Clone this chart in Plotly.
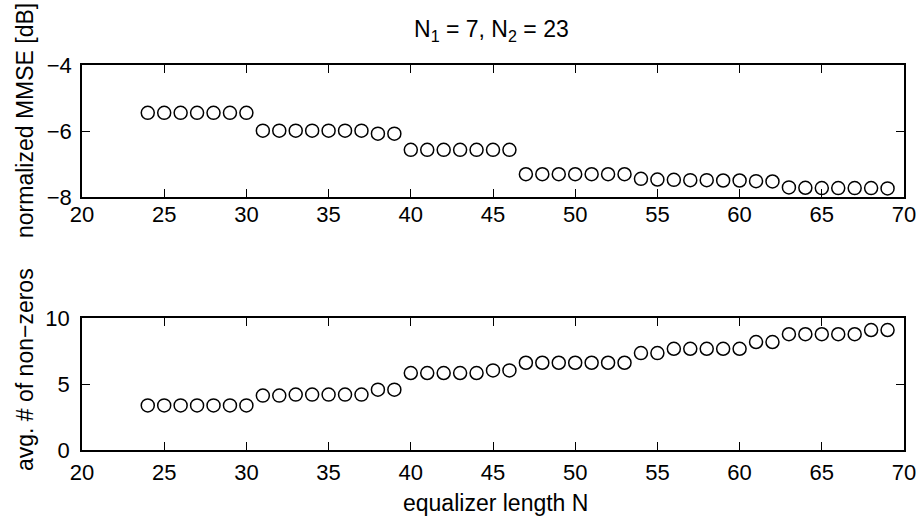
import plotly.graph_objects as go

# Data
N = list(range(24, 70))
mmse_db = [
    -5.45, -5.45, -5.45, -5.45, -5.45, -5.45, -5.45,          # 24-30
    -5.99, -5.99, -5.99, -5.99, -5.99, -5.99, -5.99,          # 31-37
    -6.08, -6.08,                                             # 38-39
    -6.57, -6.57, -6.57, -6.57, -6.57, -6.57, -6.57,          # 40-46
    -7.31, -7.31, -7.31, -7.31, -7.31, -7.31, -7.31,          # 47-53
    -7.45, -7.47, -7.48, -7.49, -7.49, -7.50, -7.50, -7.52, -7.53,  # 54-62
    -7.71, -7.72, -7.73, -7.73, -7.73, -7.73, -7.74,          # 63-69
]
avg_nonzeros = [
    3.38, 3.38, 3.38, 3.38, 3.38, 3.38, 3.38,                 # 24-30
    4.12, 4.12, 4.2, 4.2, 4.2, 4.2, 4.2,                      # 31-37
    4.57, 4.57,                                               # 38-39
    5.83, 5.83, 5.83, 5.83, 5.83, 6.03, 6.03,                 # 40-46
    6.61, 6.61, 6.61, 6.61, 6.61, 6.61, 6.61,                 # 47-53
    7.34, 7.34,                                               # 54-55
    7.67, 7.67, 7.67, 7.67, 7.67,                             # 56-60
    8.18, 8.18,                                               # 61-62
    8.77, 8.77, 8.77, 8.77, 8.77,                             # 63-67
    9.09, 9.09,                                               # 68-69
]
x_ticks = [20, 25, 30, 35, 40, 45, 50, 55, 60, 65, 70]
top_yticks = [-8, -6, -4]
bot_yticks = [0, 5, 10]

W, H = 922, 521
FONT = "Liberation Sans, Arial, Helvetica, sans-serif"
FS_TICK = 22
FS_LAB = 23

fig = go.Figure()
marker = dict(symbol="circle-open", size=13, color="black", line=dict(width=1.5, color="black"))
fig.add_trace(go.Scatter(x=N, y=mmse_db, mode="markers", marker=marker, xaxis="x", yaxis="y", showlegend=False))
fig.add_trace(go.Scatter(x=N, y=avg_nonzeros, mode="markers", marker=marker, xaxis="x2", yaxis="y2", showlegend=False))

xdom = [82 / W, 904 / W]
axis_common = dict(
    automargin=False,
    showgrid=False, zeroline=False, showline=True, linecolor="black", linewidth=1.5,
    mirror="ticks", ticks="inside", ticklen=8, tickwidth=1.2, tickcolor="black",
    tickfont=dict(family=FONT, size=FS_TICK, color="black"),
)

fig.update_layout(
    width=W, height=H,
    margin=dict(l=0, r=0, t=0, b=0, pad=0),
    paper_bgcolor="white", plot_bgcolor="white",
    showlegend=False,
    xaxis=dict(domain=xdom, range=[20, 70], tickvals=x_ticks, anchor="y", ticklabelstandoff=-3, **axis_common),
    yaxis=dict(domain=[1 - 197 / H, 1 - 65 / H], range=[-8, -4], tickvals=top_yticks, anchor="x",
               ticklabelstandoff=4, **axis_common),
    xaxis2=dict(domain=xdom, range=[20, 70], tickvals=x_ticks, anchor="y2", ticklabelstandoff=2, **axis_common),
    yaxis2=dict(domain=[1 - 450 / H, 1 - 318 / H], range=[0, 10], tickvals=bot_yticks, anchor="x2",
                ticklabelstandoff=6, **axis_common),
    annotations=[
        dict(text="N<sub>1</sub> = 7, N<sub>2</sub> = 23", x=492 / W, y=1 - 31 / H, xref="paper", yref="paper",
             showarrow=False, xanchor="center", yanchor="middle", font=dict(family=FONT, size=23, color="black")),
        dict(text="normalized MMSE [dB]", x=25 / W, y=1 - 121 / H, xref="paper", yref="paper", textangle=-90,
             showarrow=False, xanchor="center", yanchor="middle", font=dict(family=FONT, size=FS_LAB, color="black")),
        dict(text="avg. # of non\u2212zeros", x=25 / W, y=1 - 370 / H, xref="paper", yref="paper", textangle=-90,
             showarrow=False, xanchor="center", yanchor="middle", font=dict(family=FONT, size=FS_LAB, color="black")),
        dict(text="equalizer length N", x=495 / W, y=1 - 503 / H, xref="paper", yref="paper",
             showarrow=False, xanchor="center", yanchor="middle", font=dict(family=FONT, size=FS_LAB, color="black")),
    ],
)

fig.write_html("out.html")
